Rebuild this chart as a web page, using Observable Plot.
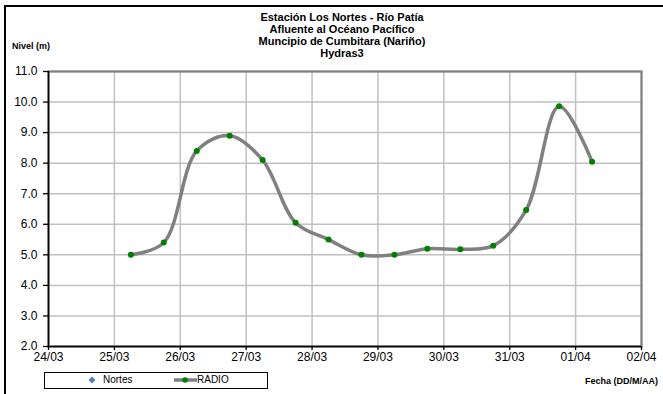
<!DOCTYPE html>
<html>
<head>
<meta charset="utf-8">
<script src="https://cdn.jsdelivr.net/npm/d3@7"></script>
<script src="https://cdn.jsdelivr.net/npm/@observablehq/plot@0.6"></script>
<style>
  html, body { margin: 0; padding: 0; background: #fff; }
  #wrap { position: relative; width: 663px; height: 394px; overflow: hidden; font-family: "Liberation Sans", Arial, sans-serif; }
  #border { position: absolute; left: 4px; top: 5px; width: 800px; height: 500px; border-left: 2px solid #000; border-top: 2px solid #000; }
  #title { position: absolute; left: 242px; width: 200px; top: 11px; text-align: center; font-weight: bold; font-size: 11px; line-height: 12px; color: #000; white-space: nowrap; }
  #ylab { position: absolute; left: 12px; top: 41px; font-weight: bold; font-size: 9px; }
  #xlab { position: absolute; left: 585px; top: 376px; font-weight: bold; font-size: 9px; white-space: nowrap; }
  #legend { position: absolute; left: 44px; top: 372px; width: 222px; height: 15px; border: 1.3px solid #000; font-size: 10px; }
  #legend span { position: absolute; top: 1px; }
  #chart { position: absolute; left: 0; top: 0; }
</style>
</head>
<body>
<div id="wrap">
  <div id="border"></div>
  <div id="chart"></div>
  <div id="title"></div>
  <div id="ylab"></div>
  <div id="xlab"></div>
  <div id="legend"></div>
</div>
<script>
// ---- data ----
const titleLines = ["Estación Los Nortes  - Río Patía", "Afluente al Océano Pacífico", "Muncipio de Cumbitara (Nariño)", "Hydras3"];
const yTitle = "Nivel (m)";
const xTitle = "Fecha (DD/M/AA)";
const seriesNames = ["Nortes", "RADIO"];
const fechas = [
  "2011-03-25T06:00Z", "2011-03-25T18:00Z", "2011-03-26T06:00Z", "2011-03-26T18:00Z",
  "2011-03-27T06:00Z", "2011-03-27T18:00Z", "2011-03-28T06:00Z", "2011-03-28T18:00Z",
  "2011-03-29T06:00Z", "2011-03-29T18:00Z", "2011-03-30T06:00Z", "2011-03-30T18:00Z",
  "2011-03-31T06:00Z", "2011-03-31T18:00Z", "2011-04-01T06:00Z"
];
const nivelesRadio = [5.0, 5.4, 8.4, 8.9, 8.1, 6.05, 5.5, 5.0, 5.0, 5.2, 5.18, 5.3, 6.47, 9.86, 8.05];
const xTickDates = ["2011-03-24", "2011-03-25", "2011-03-26", "2011-03-27", "2011-03-28", "2011-03-29", "2011-03-30", "2011-03-31", "2011-04-01", "2011-04-02"];
const yTicks = [2, 3, 4, 5, 6, 7, 8, 9, 10, 11];

// ---- build ----
const data = fechas.map((f, i) => ({fecha: d3.isoParse(f), nivel: nivelesRadio[i]}));
const xTicks = xTickDates.map(d => d3.isoParse(d + "T00:00Z"));
const xDomain = [xTicks[0], xTicks[xTicks.length - 1]];
const yDomain = [yTicks[0], yTicks[yTicks.length - 1]];

const chart = Plot.plot({
  width: 663,
  height: 394,
  marginLeft: 48,
  marginRight: 22,
  marginTop: 71,
  marginBottom: 48,
  style: {fontFamily: "'Liberation Sans', Arial, sans-serif", fontSize: "12px", color: "#000", background: "transparent"},
  x: {type: "utc", domain: xDomain},
  y: {domain: yDomain},
  marks: [
    Plot.ruleX(xTicks, {stroke: "#c0c0c0", strokeWidth: 1.5}),
    Plot.ruleY(yTicks, {stroke: "#c0c0c0", strokeWidth: 1.5}),
    Plot.frame({stroke: "#808080", strokeWidth: 2.2}),
    Plot.ruleX([xDomain[0]], {stroke: "#000", strokeWidth: 1.5}),
    Plot.ruleY([yDomain[0]], {stroke: "#000", strokeWidth: 1.5}),
    Plot.axisY({ticks: yTicks, tickFormat: d3.format(".1f"), tickSize: 5, tickPadding: 6, label: null, stroke: "#000", strokeWidth: 1.3, fill: "#000", fontSize: 12}),
    Plot.axisX({ticks: xTicks, tickFormat: d3.utcFormat("%d/%m"), tickSize: 4, tickPadding: 2, label: null, stroke: "#000", strokeWidth: 1.3, fill: "#000", fontSize: 12}),
    Plot.line(data, {x: "fecha", y: "nivel", curve: "catmull-rom", stroke: "#808080", strokeWidth: 3.5}),
    Plot.dot(data, {x: "fecha", y: "nivel", r: 3, fill: "#008000", stroke: "none"})
  ]
});
document.getElementById("chart").appendChild(chart);

document.getElementById("title").innerHTML = titleLines.map(t => `<div>${t}</div>`).join("");
document.getElementById("ylab").textContent = yTitle;
document.getElementById("xlab").textContent = xTitle;

const legend = document.getElementById("legend");
legend.innerHTML = `
  <svg width="222" height="15" style="position:absolute;left:0;top:0">
    <path d="M47,3.5 L50.5,7 L47,10.5 L43.5,7 Z" fill="#4f81bd"/>
    <line x1="129" x2="152" y1="7" y2="7" stroke="#808080" stroke-width="3.5"/>
    <circle cx="140" cy="7" r="2.8" fill="#008000"/>
  </svg>
  <span style="left:58px">${seriesNames[0]}</span>
  <span style="left:152px">${seriesNames[1]}</span>`;
</script>
</body>
</html>
